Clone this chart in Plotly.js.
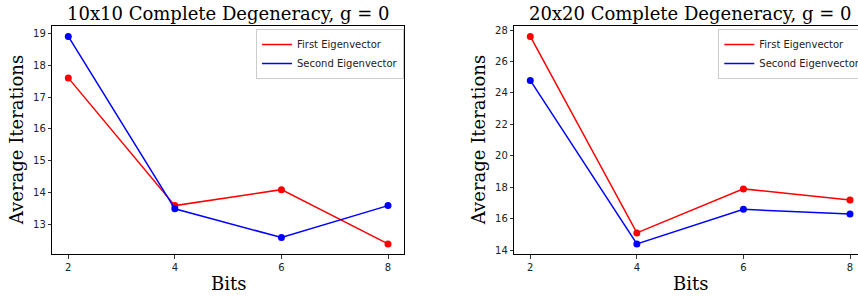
<!DOCTYPE html>
<html>
<head>
<meta charset="utf-8">
<script src="https://cdn.plot.ly/plotly-3.0.1.min.js"></script>
<style>html,body{margin:0;padding:0;background:#fff;overflow:hidden;}#chart{width:858px;height:297px;}</style>
</head>
<body>
<div id="chart"></div>
<script>
const bits = [2, 4, 6, 8];
const first10 = [17.6, 13.6, 14.1, 12.4];
const second10 = [18.9, 13.5, 12.6, 13.6];
const first20 = [27.6, 15.1, 17.9, 17.2];
const second20 = [24.8, 14.4, 16.6, 16.3];
const titles = ["10x10 Complete Degeneracy, g = 0", "20x20 Complete Degeneracy, g = 0"];
const seriesNames = ["First Eigenvector", "Second Eigenvector"];
const xTitle = "Bits";
const yTitle = "Average Iterations";

const RED = "#ff0000", BLUE = "#0000ff";
const W = 858, H = 297;
const px = v => v / W;
const py = v => 1 - v / H;

function lineTrace(y, name, color, xa, ya, lg) {
  return {x: bits, y: y, name: name, mode: "lines", type: "scatter",
    line: {color: color, width: 1.5}, xaxis: xa, yaxis: ya, legend: lg, showlegend: true, hoverinfo: "skip"};
}
function dotTrace(y, color, xa, ya) {
  return {x: bits, y: y, mode: "markers", type: "scatter",
    marker: {color: color, size: 7}, xaxis: xa, yaxis: ya, showlegend: false, hoverinfo: "skip"};
}

const data = [
  lineTrace(first10, seriesNames[0], RED, "x", "y", "legend"),
  dotTrace(first10, RED, "x", "y"),
  lineTrace(second10, seriesNames[1], BLUE, "x", "y", "legend"),
  dotTrace(second10, BLUE, "x", "y"),
  lineTrace(first20, seriesNames[0], RED, "x2", "y2", "legend2"),
  dotTrace(first20, RED, "x2", "y2"),
  lineTrace(second20, seriesNames[1], BLUE, "x2", "y2", "legend2"),
  dotTrace(second20, BLUE, "x2", "y2")
];

const tickFont = {family: "DejaVu Sans", size: 10, color: "#222"};
function xAxis(domain, range, anchor) {
  return {domain: domain, range: range, anchor: anchor, tickvals: bits, ticks: "outside", ticklen: 3.5,
    tickwidth: 0.8, tickcolor: "#000", showline: true, linecolor: "#000", linewidth: 1, mirror: true,
    showgrid: false, zeroline: false, tickfont: tickFont, automargin: false, fixedrange: true};
}
function yAxis(domain, range, anchor, dtick, mirror) {
  return {domain: domain, range: range, anchor: anchor, dtick: dtick, ticks: "outside", ticklen: 3.5,
    tickwidth: 0.8, tickcolor: "#000", showline: true, linecolor: "#000", linewidth: 1, mirror: mirror,
    showgrid: false, zeroline: false, tickfont: tickFont, automargin: false, fixedrange: true};
}

const yDom = [py(254.3), py(26)];
const legFont = {family: "DejaVu Sans", size: 10, color: "#222"};
function legendCfg(xpx) {
  return {x: px(xpx), xanchor: "left", y: py(29), yanchor: "top", bgcolor: "rgba(255,255,255,0.8)",
    bordercolor: "#cccccc", borderwidth: 1, font: legFont, itemwidth: 30, tracegroupgap: 0};
}
const serif = {family: "DejaVu Serif", size: 18, color: "#000"};
function ann(text, x, y, extra) {
  return Object.assign({text: text, x: x, y: y, xref: "paper", yref: "paper", showarrow: false, font: serif,
    xanchor: "center", yanchor: "middle"}, extra || {});
}

const layout = {
  width: W, height: H,
  margin: {l: 0, r: 0, t: 0, b: 0, autoexpand: false},
  paper_bgcolor: "#fff", plot_bgcolor: "#fff",
  xaxis: xAxis([px(52.3), px(404)], [1.7, 8.3], "y"),
  yaxis: yAxis(yDom, [12.075, 19.225], "x", 1, true),
  xaxis2: xAxis([px(514.3), 1], [1.7, 8.15], "y2"),
  yaxis2: yAxis(yDom, [13.74, 28.26], "x2", 2, false),
  legend: legendCfg(256),
  legend2: legendCfg(718.3),
  annotations: [
    ann(titles[0], px(228.2), py(13.3)),
    ann(titles[1], px(690.2), py(13.3)),
    ann(xTitle, px(228.2), py(283.3)),
    ann(xTitle, px(690.2), py(283.3)),
    ann(yTitle, px(16), py(140.15), {textangle: -90}),
    ann(yTitle, px(478), py(140.15), {textangle: -90})
  ],
  showlegend: true
};

Plotly.newPlot("chart", data, layout, {displayModeBar: false, staticPlot: true});
</script>
</body>
</html>
